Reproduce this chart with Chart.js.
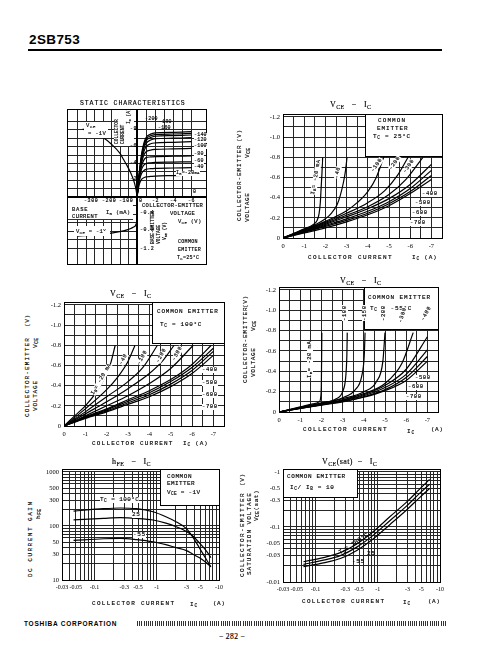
<!DOCTYPE html>
<html>
<head>
<meta charset="utf-8">
<title>2SB753</title>
<script src="https://cdn.jsdelivr.net/npm/chart.js@4.4.1/dist/chart.umd.min.js"></script>
<style>
  html, body { margin: 0; padding: 0; background: #fff; }
  #page { position: relative; width: 488px; height: 662px; overflow: hidden; background: #fff; color: #000; }
  #page canvas { position: absolute; }
  .t { position: absolute; font-family: "Liberation Mono", monospace; font-size: 6px; line-height: 6px; letter-spacing: 0.6px; white-space: nowrap; transform-origin: 0 0; color: #000; -webkit-text-stroke: 0.15px #000; }
  .t sub { font-size: 0.75em; vertical-align: -0.3em; line-height: 0; }
  .t sup { font-size: 0.75em; vertical-align: 0.4em; line-height: 0; }
  .ttl { font-family: "Liberation Serif", serif; font-size: 8px; line-height: 8px; letter-spacing: 0.4px; }
  .blk { position: absolute; background: #000; }
  .wb { position: absolute; background: #fff; box-sizing: border-box; }
  .frm { position: absolute; border: 1px solid #000; box-sizing: border-box; }
</style>
</head>
<body>
<div id="page">
  <div class="t" style="left:29px;top:33px;font:bold 13.5px/14px 'Liberation Sans',sans-serif;letter-spacing:0.4px;-webkit-text-stroke:0;">2SB753</div>
  <div class="blk" style="left:28px;top:49px;width:414px;height:2px;"></div>
  <div class="t" style="left:24px;top:620px;font:bold 6.5px/7px 'Liberation Sans',sans-serif;letter-spacing:0.75px;-webkit-text-stroke:0;">TOSHIBA CORPORATION</div>
  <div class="wb" style="left:137px;top:621px;width:310px;height:5px;background:repeating-linear-gradient(90deg,#333 0 1px,#fff 1px 2.2px);"></div>
  <div class="t" style="left:219px;top:633px;font:7.5px/8px 'Liberation Serif',serif;letter-spacing:0.5px;">−&thinsp;282&thinsp;−</div>
</div>
<script>
// ---------- data (PNP device: the sheet shows currents and voltages as negative) ----------

// STATIC CHARACTERISTICS, upper right: IC (A) against VCE (V), one row per base current
const staticVce = [0, -0.25, -0.5, -0.75, -1, -1.5, -2, -4, -6];
const staticIb = [-20, -40, -60, -80, -100, -120, -140, -160, -180, -200];
const staticIc = [
  [0, -1.5, -2.1, -2.3, -2.4, -2.45, -2.5, -2.55, -2.6],
  [0, -1.9, -2.8, -3.15, -3.3, -3.38, -3.42, -3.46, -3.5],
  [0, -2.1, -3.3, -3.8, -4.0, -4.08, -4.12, -4.16, -4.2],
  [0, -2.3, -3.7, -4.4, -4.7, -4.78, -4.82, -4.86, -4.9],
  [0, -2.4, -4.0, -5.0, -5.4, -5.6, -5.68, -5.74, -5.8],
  [0, -2.5, -4.3, -5.4, -6.0, -6.35, -6.45, -6.52, -6.6],
  [0, -2.6, -4.5, -5.8, -6.4, -6.8, -6.95, -7.02, -7.1],
  [0, -2.7, -4.7, -6.0, -6.7, -7.1, -7.25, -7.32, -7.4],
  [0, -2.8, -4.9, -6.2, -6.9, -7.3, -7.45, -7.52, -7.6],
  [0, -2.9, -5.1, -6.4, -7.1, -7.5, -7.65, -7.72, -7.8]
];
// upper left: IC against IB at VCE = -1 V
const transferIb = [0, -2, -5, -10, -20, -40, -60, -80, -100, -150, -200, -250, -320];
const transferIc = [0, -0.4, -0.8, -1.3, -2.0, -3.0, -3.8, -4.5, -5.2, -6.3, -7.1, -7.6, -8.1];
// lower left: VBE against IB at VCE = -1 V
const inputIb = [0, -0.5, -2, -5, -10, -20, -40, -80, -150, -250, -350];
const inputVbe = [0, -0.45, -0.58, -0.63, -0.67, -0.7, -0.74, -0.79, -0.84, -0.88, -0.91];

// VCE - IC, Tc = 25 C (IB in mA)
const ib25 = [-20, -40, -100, -200, -300, -400, -500, -600, -700];
const ic25 = [
  [0, -0.5, -1, -1.4, -1.6, -1.7, -1.76, -1.8, -1.84, -1.87],
  [0, -1, -1.5, -2, -2.3, -2.55, -2.7, -2.85, -2.95, -3.02],
  [0, -1, -2, -3, -3.5, -4, -4.4, -4.75],
  [0, -1, -2, -3, -4, -4.8, -5.4, -5.9],
  [0, -1, -2, -3, -4, -5, -5.8, -6.6],
  [0, -1, -2, -3, -4, -5, -6, -7],
  [0, -1, -2, -3, -4, -5, -6, -7],
  [0, -1, -2, -3, -4, -5, -6, -7],
  [0, -1, -2, -3, -4, -5, -6, -7]
];
const vce25 = [
  [0, -0.045, -0.09, -0.13, -0.17, -0.24, -0.35, -0.5, -0.65, -0.8],
  [0, -0.085, -0.13, -0.19, -0.25, -0.33, -0.42, -0.55, -0.67, -0.8],
  [0, -0.08, -0.165, -0.27, -0.35, -0.46, -0.6, -0.8],
  [0, -0.075, -0.155, -0.245, -0.35, -0.47, -0.62, -0.8],
  [0, -0.07, -0.145, -0.225, -0.31, -0.43, -0.58, -0.8],
  [0, -0.065, -0.135, -0.21, -0.29, -0.39, -0.53, -0.73],
  [0, -0.06, -0.125, -0.19, -0.265, -0.36, -0.49, -0.67],
  [0, -0.055, -0.115, -0.175, -0.245, -0.34, -0.46, -0.62],
  [0, -0.05, -0.1, -0.16, -0.23, -0.32, -0.44, -0.58]
];

// VCE - IC, Tc = 100 C
const ib100 = [-20, -40, -100, -200, -300, -400, -500, -600, -700];
const ic100 = [
  [0, -0.5, -1, -1.5, -2, -2.2, -2.4],
  [0, -1, -2, -2.5, -3, -3.33],
  [0, -1, -2, -3, -3.7, -4.38],
  [0, -1, -2, -3, -4, -4.6, -5.16],
  [0, -1, -2, -3, -4, -5, -6.06],
  [0, -1, -2, -3, -4, -5, -6, -6.9],
  [0, -1, -2, -3, -4, -5, -6, -7],
  [0, -1, -2, -3, -4, -5, -6, -7],
  [0, -1, -2, -3, -4, -5, -6, -7]
];
const vce100 = [
  [0, -0.1, -0.2, -0.33, -0.52, -0.63, -0.8],
  [0, -0.17, -0.36, -0.48, -0.64, -0.8],
  [0, -0.14, -0.29, -0.44, -0.58, -0.8],
  [0, -0.12, -0.24, -0.37, -0.52, -0.64, -0.8],
  [0, -0.1, -0.2, -0.3, -0.42, -0.57, -0.8],
  [0, -0.09, -0.17, -0.26, -0.35, -0.46, -0.61, -0.8],
  [0, -0.085, -0.16, -0.245, -0.33, -0.44, -0.58, -0.77],
  [0, -0.08, -0.15, -0.23, -0.31, -0.415, -0.55, -0.74],
  [0, -0.075, -0.14, -0.215, -0.29, -0.39, -0.52, -0.7]
];

// VCE - IC, Tc = -55 C
const ibM55 = [-20, -100, -150, -200, -300, -400, -500, -600, -700];
const icM55 = [
  [0, -1, -1.6, -1.9, -1.97, -2.0, -2.02],
  [0, -1, -2, -2.7, -3.0, -3.15, -3.2, -3.22],
  [0, -1, -2, -3, -3.6, -3.9, -4.02, -4.06],
  [0, -1, -2, -3, -4, -4.6, -4.9, -5.0],
  [0, -1, -2, -3, -4, -5, -5.8, -6.33],
  [0, -1, -2, -3, -4, -5, -6, -7],
  [0, -1, -2, -3, -4, -5, -6, -7],
  [0, -1, -2, -3, -4, -5, -6, -7],
  [0, -1, -2, -3, -4, -5, -6, -7]
];
const vceM55 = [
  [0, -0.05, -0.08, -0.1, -0.15, -0.3, -0.78],
  [0, -0.045, -0.09, -0.13, -0.2, -0.35, -0.55, -0.78],
  [0, -0.043, -0.085, -0.14, -0.22, -0.35, -0.55, -0.78],
  [0, -0.04, -0.08, -0.13, -0.2, -0.3, -0.5, -0.78],
  [0, -0.04, -0.078, -0.12, -0.18, -0.28, -0.48, -0.78],
  [0, -0.038, -0.075, -0.115, -0.17, -0.26, -0.42, -0.74],
  [0, -0.037, -0.072, -0.11, -0.16, -0.24, -0.37, -0.61],
  [0, -0.036, -0.07, -0.105, -0.15, -0.22, -0.34, -0.545],
  [0, -0.035, -0.068, -0.1, -0.145, -0.21, -0.31, -0.5]
];

// hFE - IC at VCE = -1 V (|IC| in A, log axes)
const hfeIc = [0.046, 0.14, 0.26, 0.47, 0.87, 1.4, 2.0, 3.0, 3.8, 4.8, 6.2, 7.4];
const hfe100 = [188, 209, 215, 209, 183, 148, 121, 89, 62, 40, 24.5, 17.5];
const hfe25 = [129, 138, 142, 138, 129, 113, 98, 79, 65, 49, 35, 26];
const hfeM55 = [54, 58, 59, 56, 51, 45, 40, 35, 30, 26, 21, 17.5];

// VCE(sat) - IC at IC/IB = 10 (|IC| in A, |VCE(sat)| in V)
const satIc = [0.064, 0.134, 0.25, 0.46, 0.85, 1.56, 2.9, 4.7, 6.8];
const sat100 = [0.0233, 0.0278, 0.0341, 0.0492, 0.0826, 0.153, 0.282, 0.486, 0.73];
const sat25 = [0.0209, 0.0249, 0.0302, 0.043, 0.0711, 0.13, 0.239, 0.407, 0.596];
const satM55 = [0.019, 0.0223, 0.0267, 0.0375, 0.0612, 0.11, 0.203, 0.341, 0.5];

// tick labels
const logXLabels = [0.03, 0.05, 0.1, 0.3, 0.5, 1, 3, 5, 10];
const hfeLabels = [10, 30, 50, 100, 300, 500, 1000];
const satLabels = [0.01, 0.03, 0.05, 0.1, 0.3, 0.5, 1];

// ---------- drawing ----------
const page = document.getElementById('page');
const GRID = '#262626';
Chart.defaults.animation = false;
Chart.defaults.events = [];
Chart.defaults.plugins.legend.display = false;
Chart.defaults.plugins.tooltip.enabled = false;
Chart.defaults.font.family = "'Liberation Serif', serif";
Chart.defaults.color = '#000';

function placeCanvas(left, top, w, h) {
  const c = document.createElement('canvas');
  c.width = w; c.height = h;
  c.style.left = left + 'px'; c.style.top = top + 'px';
  page.appendChild(c);
  return c;
}

function curve(xs, ys) {
  return {
    data: xs.map((x, i) => ({ x: x, y: ys[i] })),
    borderColor: '#000', borderWidth: 1.2, pointRadius: 0, fill: false,
    cubicInterpolationMode: 'monotone'
  };
}

function decades(lo, hi) {
  const out = [];
  for (let d = 0.001; d < hi * 1.01; d *= 10) {
    for (let k = 1; k < 10; k++) {
      const v = +(k * d).toPrecision(3);
      if (v >= lo - 1e-9 && v <= hi + 1e-9) out.push(v);
    }
  }
  return out;
}

const tickFont = { size: 6.5 };

// linear VCE - IC plots, box = plot area in page pixels
function vceChart(box, ics, vces) {
  const padL = 24, padR = 4, padT = 4, padB = 14;
  const c = placeCanvas(box.l - padL, box.t - padT, box.r - box.l + padL + padR, box.b - box.t + padT + padB);
  new Chart(c, {
    type: 'line',
    data: { datasets: ics.map((ic, i) => curve(ic, vces[i])) },
    options: {
      responsive: false,
      layout: { padding: { top: padT, right: padR, left: 0, bottom: 0 } },
      scales: {
        x: {
          type: 'linear', reverse: true, min: -7.5, max: 0,
          afterFit: s => { s.height = padB; },
          grid: { color: GRID, lineWidth: 1, drawTicks: false },
          border: { color: '#000' },
          ticks: { stepSize: 0.5, autoSkip: false, maxRotation: 0, padding: 4, font: tickFont,
            callback: v => Number.isInteger(v) ? (v === 0 ? '0' : String(v)) : '' }
        },
        y: {
          type: 'linear', reverse: true, min: -1.2, max: 0,
          afterFit: s => { s.width = padL; },
          grid: { color: GRID, lineWidth: 1, drawTicks: false },
          border: { color: '#000' },
          ticks: { stepSize: 0.1, autoSkip: false, padding: 3, font: tickFont,
            callback: v => { const r = Math.round(v * 10); return r % 2 ? '' : (r === 0 ? '0' : (r / 10).toFixed(1)); } }
        }
      }
    }
  });
}

// log-log plots
function logChart(box, yMin, yMax, yLabels, yFmt, datasets) {
  const padL = 24, padR = 8, padT = 4, padB = 14;
  const c = placeCanvas(box.l - padL, box.t - padT, box.r - box.l + padL + padR, box.b - box.t + padT + padB);
  const xGrid = decades(0.03, 10);
  const yGrid = decades(yMin, yMax);
  new Chart(c, {
    type: 'line',
    data: { datasets: datasets },
    options: {
      responsive: false,
      layout: { padding: { top: padT, right: padR, left: 0, bottom: 0 } },
      scales: {
        x: {
          type: 'logarithmic', min: 0.03, max: 10,
          afterBuildTicks: a => { a.ticks = xGrid.map(v => ({ value: v })); },
          afterFit: s => { s.height = padB; },
          grid: { color: GRID, lineWidth: 1, drawTicks: false },
          border: { color: '#000' },
          ticks: { autoSkip: false, maxRotation: 0, padding: 4, font: { size: 6 },
            callback: v => logXLabels.includes(v) ? '-' + v : '' }
        },
        y: {
          type: 'logarithmic', min: yMin, max: yMax,
          afterBuildTicks: a => { a.ticks = yGrid.map(v => ({ value: v })); },
          afterFit: s => { s.width = padL; },
          grid: { color: GRID, lineWidth: 1, drawTicks: false },
          border: { color: '#000' },
          ticks: { autoSkip: false, padding: 3, font: tickFont,
            callback: v => yLabels.includes(v) ? yFmt(v) : '' }
        }
      }
    }
  });
}

// one quadrant of the static characteristics
function quadrant(left, top, w, h, xOpt, yOpt, datasets) {
  const c = placeCanvas(left, top, w, h);
  const common = { type: 'linear', grid: { color: GRID, lineWidth: 1, drawTicks: false }, border: { display: false } };
  new Chart(c, {
    type: 'line',
    data: { datasets: datasets },
    options: {
      responsive: false,
      layout: { padding: 0 },
      scales: {
        x: Object.assign({}, common, xOpt, { afterFit: s => { s.height = 0; } }),
        y: Object.assign({}, common, yOpt, { afterFit: s => { s.width = 0; } })
      }
    }
  });
}

// --- static characteristics (box 67..206 x 109..264, origin at 137,197)
quadrant(137, 109, 69, 88,
  { reverse: true, min: -7.6, max: 0, ticks: { display: false, stepSize: 1 } },
  { reverse: true, min: -10.5, max: 0, ticks: { display: false, stepSize: 1 } },
  staticIc.map(row => curve(staticVce, row)));
quadrant(67, 109, 70, 88,
  { min: -412, max: 0, ticks: { display: false, stepSize: 50 } },
  { reverse: true, min: -10.5, max: 0, position: 'right', ticks: { display: false, stepSize: 1 } },
  [curve(transferIb, transferIc)]);
quadrant(67, 197, 70, 67,
  { min: -412, max: 0, position: 'top', ticks: { display: false, stepSize: 50 } },
  { min: -1.56, max: 0, position: 'right', ticks: { display: false, stepSize: 0.2 } },
  [curve(inputIb, inputVbe)]);

// --- VCE - IC charts
vceChart({ l: 283, t: 114, r: 442, b: 238 }, ic25, vce25);
vceChart({ l: 64, t: 302, r: 224, b: 426 }, ic100, vce100);
vceChart({ l: 279, t: 287, r: 438, b: 412 }, icM55, vceM55);

// --- log charts
logChart({ l: 62, t: 469, r: 219, b: 580 }, 10, 1000, hfeLabels, v => String(v),
  [curve(hfeIc, hfe100), curve(hfeIc, hfe25), curve(hfeIc, hfeM55)]);
logChart({ l: 283, t: 469, r: 440, b: 582 }, 0.01, 1, satLabels, v => '-' + v,
  [curve(satIc, sat100), curve(satIc, sat25), curve(satIc, satM55)]);

// ---------- overlays: boxes, frames and text ----------
function wbox(l, t, w, h, border) {
  const d = document.createElement('div');
  d.className = 'wb';
  d.style.cssText = 'left:' + l + 'px;top:' + t + 'px;width:' + w + 'px;height:' + h + 'px;' + (border || '');
  page.appendChild(d);
}
function rule(l, t, w, h) {
  const d = document.createElement('div');
  d.className = 'blk';
  d.style.cssText = 'left:' + l + 'px;top:' + t + 'px;width:' + w + 'px;height:' + h + 'px;';
  page.appendChild(d);
}
function frame(l, t, r, b) {
  const d = document.createElement('div');
  d.className = 'frm';
  d.style.cssText = 'left:' + l + 'px;top:' + t + 'px;width:' + (r - l + 1) + 'px;height:' + (b - t + 1) + 'px;';
  page.appendChild(d);
}
function put(x, y, html, o) {
  o = o || {};
  const d = document.createElement('div');
  d.className = 't' + (o.cls ? ' ' + o.cls : '');
  d.style.left = x + 'px'; d.style.top = y + 'px';
  if (o.size) { d.style.fontSize = o.size + 'px'; d.style.lineHeight = o.size + 'px'; }
  if (o.ls != null) d.style.letterSpacing = o.ls + 'px';
  if (o.rot) d.style.transform = 'rotate(' + o.rot + 'deg)';
  if (o.bg) d.style.background = '#fff';
  d.innerHTML = html;
  page.appendChild(d);
}
const B = '1px solid #000';
const T = (a, b) => 'V<sub>' + a + '</sub>' + (b || '');

// static characteristics overlays
wbox(68, 198, 65, 22, 'border-bottom:1px solid #333;');
wbox(114, 110, 20, 36);
wbox(84, 122, 24, 16);
wbox(138, 198, 68, 66);
wbox(74, 226, 36, 10);
frame(67, 109, 206, 264);
rule(67, 196, 140, 2);
rule(136, 109, 2, 156);
put(80, 101, 'STATIC CHARACTERISTICS', { size: 6.5, ls: 0.9 });
put(145, 117, '-200', { size: 5, ls: 0.2 });
put(159, 120, '-180', { size: 5, ls: 0.2 });
put(158, 126, '-160', { size: 5, ls: 0.2 });
[['-140', 132.5], ['-120', 137.5], ['-100', 144], ['-80', 152], ['-60', 158.5], ['-40', 164.5]].forEach(p => {
  put(194, p[1], p[0], { size: 5, ls: 0.2, bg: true });
});
put(176, 171, 'I<sub>B</sub>=-20<span style="font-size:4px">mA</span>', { size: 5, ls: 0.2, bg: true });
put(193, 190, '0', { size: 5 });
put(139, 199, '0', { size: 5 });
put(152, 199, '-2', { size: 5 });
put(170, 199, '-4', { size: 5 });
put(188, 199, '-6', { size: 5 });
put(84, 199, '-300', { size: 5 });
put(102, 199, '-200', { size: 5 });
put(119, 199, '-100', { size: 5 });
put(130, 127, '-8', { size: 5 });
put(130, 144, '-6', { size: 5 });
put(130, 161, '-4', { size: 5 });
put(130, 177, '-2', { size: 5 });
put(140, 211, '-0.4', { size: 5 });
put(140, 228, '-0.8', { size: 5 });
put(140, 247, '-1.2', { size: 5 });
put(142, 203, 'COLLECTOR-EMITTER', { size: 5.5, ls: 0.3 });
put(170, 211, 'VOLTAGE', { size: 5.5, ls: 0.3 });
put(178, 219, T('CE', ' (V)'), { size: 5.5, ls: 0.3 });
put(151, 244, 'BASE-EMITTER', { size: 4.6, ls: 0, rot: -90 });
put(157, 244, 'VOLTAGE', { size: 4.6, ls: 0, rot: -90 });
put(163, 240, T('BE', ' (V)'), { size: 4.6, ls: 0, rot: -90 });
put(178, 240, 'COMMON', { size: 5, ls: 0.3 });
put(178, 248, 'EMITTER', { size: 5, ls: 0.3 });
put(177, 256, 'T<sub>C</sub>=25°C', { size: 5, ls: 0.3 });
put(72, 207, 'BASE', { size: 5.5, ls: 0.8 });
put(72, 214, 'CURRENT', { size: 5.5, ls: 0.4 });
put(106, 210, 'I<sub>B</sub> (mA)', { size: 5.5, ls: 0.3 });
put(76, 229, T('CE', ' = -1<sup>V</sup>'), { size: 5.5, ls: 0.3 });
put(115, 144, 'COLLECTOR', { size: 4.6, ls: 0, rot: -90 });
put(121, 144, 'CURRENT', { size: 4.6, ls: 0, rot: -90 });
put(127, 124, 'I<sub>C</sub> (A)', { size: 4.6, ls: 0, rot: -90 });
put(86, 123, T('CE'), { size: 5.5 });
put(88, 131, '= -1V', { size: 5.5, ls: 0.3 });

// top right: VCE - IC, Tc = 25
frame(283, 114, 442, 238);
wbox(365, 114, 78, 43, 'border:' + B + ';');
put(330, 101, T('CE') + '&nbsp;&nbsp;&nbsp;−&nbsp;&nbsp;&nbsp;I<sub>C</sub>', { cls: 'ttl' });
put(378, 118, 'COMMON', { ls: 1.1 });
put(377, 126, 'EMITTER', { ls: 0.9 });
put(373, 134, 'T<sub>C</sub> = 25°C', { ls: 0.7 });
put(237, 221, 'COLLECTOR-EMITTER', { ls: 0.9, rot: -90 });
put(237, 142, '(V)', { ls: 0.6, rot: -90 });
put(245, 222, 'VOLTAGE', { ls: 0.6, rot: -90 });
put(245, 158, T('CE'), { ls: 0.6, rot: -90 });
put(308, 255, 'COLLECTOR CURRENT', { ls: 1.4 });
put(412, 255, 'I<sub>C</sub> (A)', { ls: 0.8 });
put(310, 194, 'I<sub>B</sub>= -20 mA', { size: 5.5, ls: 0.3, rot: -80, bg: true });
put(334, 178, '-40', { size: 5.5, rot: -80, bg: true });
put(370, 170, '-100', { size: 5.5, rot: -55, bg: true });
put(388, 168, '-200', { size: 5.5, rot: -55, bg: true });
put(402, 171, '-300', { size: 5.5, rot: -55, bg: true });
put(422, 191, '-400', { size: 5.5, bg: true });
put(415, 200, '-500', { size: 5.5, bg: true });
put(412, 210, '-600', { size: 5.5, bg: true });
put(410, 220, '-700', { size: 5.5, bg: true });

// middle left: Tc = 100
frame(64, 302, 224, 426);
wbox(152, 302, 73, 42, 'border:' + B + ';');
put(110, 290, T('CE') + '&nbsp;&nbsp;&nbsp;−&nbsp;&nbsp;&nbsp;I<sub>C</sub>', { cls: 'ttl' });
put(157, 309, 'COMMON EMITTER', { ls: 0.8 });
put(160, 322, 'T<sub>C</sub> = 100°C', { ls: 0.7 });
put(25, 417, 'COLLECTOR-EMITTER', { ls: 1.1, rot: -90 });
put(25, 327, '(V)', { ls: 0.6, rot: -90 });
put(33, 411, 'VOLTAGE', { ls: 0.8, rot: -90 });
put(33, 348, T('CE'), { ls: 0.6, rot: -90 });
put(92, 441, 'COLLECTOR CURRENT', { ls: 1.2 });
put(183, 441, 'I<sub>C</sub> (A)', { ls: 0.8 });
put(90, 393, 'I<sub>B</sub>= -20 mA', { size: 5.5, ls: 0.3, rot: -60, bg: true });
put(118, 363, '-40', { size: 5.5, rot: -60, bg: true });
put(136, 363, '-100', { size: 5.5, rot: -60, bg: true });
put(155, 361, '-200', { size: 5.5, rot: -60, bg: true });
put(171, 359, '-300', { size: 5.5, rot: -60, bg: true });
put(202, 367, '-400', { size: 5.5, bg: true });
put(202, 380, '-500', { size: 5.5, bg: true });
put(202, 392, '-600', { size: 5.5, bg: true });
put(202, 404, '-700', { size: 5.5, bg: true });

// middle right: Tc = -55
frame(279, 287, 438, 412);
wbox(364, 287, 75, 43, 'border:' + B + ';');
put(340, 277, T('CE') + '&nbsp;&nbsp;&nbsp;−&nbsp;&nbsp;&nbsp;I<sub>C</sub>', { cls: 'ttl' });
put(368, 295, 'COMMON EMITTER', { ls: 0.9 });
put(370, 306, 'T<sub>C</sub> = -55°C', { ls: 0.7 });
put(243, 383, 'COLLECTOR-EMITTER', { ls: 0.9, rot: -90 });
put(243, 308, '(V)', { ls: 0.6, rot: -90 });
put(251, 377, 'VOLTAGE', { ls: 0.6, rot: -90 });
put(251, 331, T('CE'), { ls: 0.6, rot: -90 });
put(303, 427, 'COLLECTOR CURRENT', { ls: 1.4 });
put(407, 429, 'I<sub>C</sub>', { ls: 0.8 });
put(431, 427, '(A)', { ls: 0.5 });
put(307, 378, 'I<sub>B</sub>= -20 mA', { size: 5.5, ls: 0.5, rot: -90, bg: true });
put(342, 321, '-100', { size: 5.5, rot: -90, bg: true });
put(362, 321, '-150', { size: 5.5, rot: -90, bg: true });
put(381, 321, '-200', { size: 5.5, rot: -90, bg: true });
put(398, 322, '-300', { size: 5.5, rot: -75, bg: true });
put(420, 319, '-400', { size: 5.5, rot: -60, bg: true });
put(415, 375, '-500', { size: 5.5, bg: true });
put(408, 384, '-600', { size: 5.5, bg: true });
put(406, 394, '-700', { size: 5.5, bg: true });

// bottom left: hFE - IC
frame(62, 469, 219, 580);
wbox(160, 469, 60, 37, 'border:' + B + ';');
put(112, 458, 'h<sub>FE</sub>&nbsp;&nbsp;&nbsp;−&nbsp;&nbsp;&nbsp;I<sub>C</sub>', { cls: 'ttl' });
put(167, 474, 'COMMON', { ls: 0.6 });
put(167, 481, 'EMITTER', { ls: 0.4 });
put(167, 490, T('CE', ' = -1V'), { ls: 0.3 });
put(28, 577, 'DC CURRENT GAIN', { ls: 1.5, rot: -90 });
put(36, 519, 'h<sub>FE</sub>', { ls: 0.6, rot: -90 });
put(92, 601, 'COLLECTOR CURRENT', { ls: 1.3 });
put(190, 602, 'I<sub>C</sub>', { ls: 0.8 });
put(213, 601, '(A)', { ls: 0.5 });
put(100, 497, 'T<sub>C</sub> = 100°C', { bg: true, ls: 0.4 });
put(132, 512, '25', { bg: true });
put(133, 532, '-55', { bg: true });

// bottom right: VCE(sat) - IC
frame(283, 469, 440, 582);
wbox(283, 469, 75, 29, 'border:' + B + ';');
put(322, 458, 'V<sub>CE</sub>(sat)&nbsp;&nbsp;−&nbsp;&nbsp;&nbsp;I<sub>C</sub>', { cls: 'ttl' });
put(287, 474, 'COMMON EMITTER', { ls: 0.6 });
put(290, 485, 'I<sub>C</sub>/ I<sub>B</sub> = 10', { ls: 0.6 });
put(240, 577, 'COLLECTOR-EMITTER', { ls: 1.4, rot: -90 });
put(240, 486, '(V)', { ls: 0.6, rot: -90 });
put(247, 575, 'SATURATION VOLTAGE', { ls: 1.0, rot: -90 });
put(254, 521, 'V<sub>CE</sub>(sat)', { ls: 0.5, rot: -90 });
put(302, 599, 'COLLECTOR CURRENT', { ls: 1.3 });
put(403, 600, 'I<sub>C</sub>', { ls: 0.8 });
put(428, 599, '(A)', { ls: 0.5 });
put(338, 551, 'T<sub>C</sub>= 100°C', { ls: 0.3, rot: -33 });
put(367, 551, '25', {});
put(352, 559, '-55', {});
</script>
</body>
</html>
